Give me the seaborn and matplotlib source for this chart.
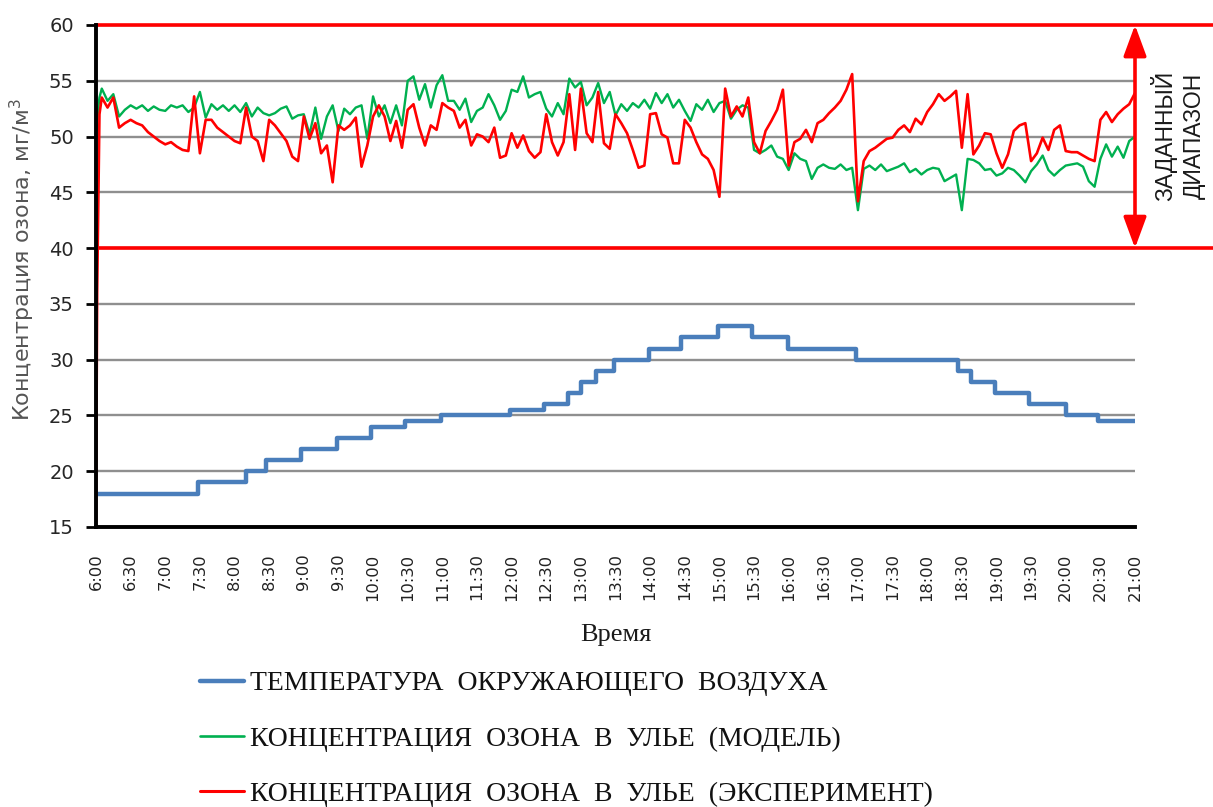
import matplotlib
matplotlib.use("Agg")
import matplotlib.pyplot as plt
from matplotlib.lines import Line2D
import pandas as pd
import seaborn as sns

# ---------------- data ----------------
# time axis: minutes after 6:00
tick_minutes = list(range(0, 901, 30))
tick_labels = ["6:00", "6:30", "7:00", "7:30", "8:00", "8:30", "9:00", "9:30",
               "10:00", "10:30", "11:00", "11:30", "12:00", "12:30", "13:00",
               "13:30", "14:00", "14:30", "15:00", "15:30", "16:00", "16:30",
               "17:00", "17:30", "18:00", "18:30", "19:00", "19:30", "20:00",
               "20:30", "21:00"]

# ambient air temperature, step changes (minute of change, value)
temp_minutes = [0, 88, 130, 147, 178, 209, 238, 268, 299, 359, 388, 409, 420, 433,
                449, 479, 507, 539, 568, 599, 658, 747, 758, 779, 808, 840, 868, 900]
temp_values = [18, 19, 20, 21, 22, 23, 24, 24.5, 25, 25.5, 26, 27, 28, 29,
               30, 31, 32, 33, 32, 31, 30, 29, 28, 27, 26, 25, 24.5, 24.5]

# ozone readings: first minutes of start-up, then every 5 minutes
ozone_minutes = [0, 1, 2, 3] + list(range(5, 901, 5))

ozone_model = [
    50.0, 51.5, 52.6, 53.5,
    54.3, 53.2, 53.8, 51.8, 52.4, 52.8, 52.5, 52.8, 52.3, 52.7, 52.4, 52.3,
    52.8, 52.6, 52.8, 52.2, 52.6, 54.0, 51.7, 52.9, 52.4, 52.8, 52.3, 52.8,
    52.2, 53.0, 51.8, 52.6, 52.1, 51.9, 52.1, 52.5, 52.7, 51.6, 51.9, 52.0,
    50.2, 52.6, 49.8, 51.8, 52.8, 50.5, 52.5, 52.0, 52.6, 52.8, 49.8, 53.6,
    51.8, 52.8, 51.2, 52.8, 51.0, 55.0, 55.4, 53.3, 54.7, 52.6, 54.6, 55.5,
    53.2, 53.2, 52.4, 53.4, 51.3, 52.3, 52.6, 53.8, 52.8, 51.5, 52.3, 54.2,
    54.0, 55.4, 53.5, 53.8, 54.0, 52.5, 51.8, 53.0, 52.0, 55.2, 54.4, 54.9,
    52.8, 53.5, 54.8, 53.0, 54.0, 51.9, 52.9, 52.3, 53.0, 52.6, 53.3, 52.5,
    53.9, 53.0, 53.8, 52.6, 53.3, 52.3, 51.4, 52.9, 52.4, 53.3, 52.2, 53.0,
    53.2, 51.6, 52.4, 52.8, 52.6, 48.8, 48.5, 48.8, 49.2, 48.2, 48.0, 47.0,
    48.5, 48.0, 47.8, 46.2, 47.2, 47.5, 47.2, 47.1, 47.5, 47.0, 47.2, 43.4,
    47.1, 47.4, 47.0, 47.5, 46.9, 47.1, 47.3, 47.6, 46.8, 47.1, 46.6, 47.0,
    47.2, 47.1, 46.0, 46.3, 46.6, 43.4, 48.0, 47.9, 47.6, 47.0, 47.1, 46.5,
    46.7, 47.2, 47.0, 46.5, 45.9, 46.9, 47.5, 48.3, 47.0, 46.5, 47.0, 47.4,
    47.5, 47.6, 47.3, 46.0, 45.5, 48.0, 49.3, 48.2, 49.1, 48.1, 49.6, 50.0,
]

ozone_experiment = [
    15.0, 36.0, 44.0, 52.0,
    53.5, 52.6, 53.5, 50.8, 51.2, 51.5, 51.2, 51.0, 50.4, 50.0, 49.6, 49.3,
    49.5, 49.1, 48.8, 48.7, 53.6, 48.5, 51.5, 51.5, 50.8, 50.4, 50.0, 49.6,
    49.4, 52.6, 50.0, 49.6, 47.8, 51.5, 51.0, 50.3, 49.6, 48.2, 47.8, 51.8,
    49.8, 51.2, 48.5, 49.2, 45.9, 51.0, 50.6, 51.0, 51.7, 47.3, 49.2, 51.8,
    52.8, 51.8, 49.6, 51.4, 49.0, 52.4, 52.9, 50.8, 49.2, 51.0, 50.6, 53.0,
    52.6, 52.3, 50.8, 51.5, 49.2, 50.2, 50.0, 49.5, 50.8, 48.1, 48.3, 50.3,
    49.0, 50.1, 48.7, 48.1, 48.6, 52.0, 49.5, 48.3, 49.5, 53.8, 48.8, 54.3,
    50.3, 49.5, 54.0, 49.4, 48.9, 52.0, 51.2, 50.3, 48.8, 47.2, 47.4, 52.0,
    52.1, 50.2, 49.9, 47.6, 47.6, 51.5, 50.8, 49.5, 48.4, 48.0, 47.0, 44.6,
    54.3, 51.8, 52.7, 51.8, 53.5, 49.5, 48.5, 50.5, 51.4, 52.4, 54.2, 47.4,
    49.5, 49.8, 50.6, 49.5, 51.2, 51.5, 52.1, 52.6, 53.2, 54.2, 55.6, 44.2,
    47.8, 48.7, 49.0, 49.4, 49.8, 49.9, 50.6, 51.0, 50.4, 51.6, 51.1, 52.2,
    52.9, 53.8, 53.2, 53.6, 54.1, 49.0, 53.8, 48.4, 49.2, 50.3, 50.2, 48.5,
    47.2, 48.4, 50.5, 51.0, 51.2, 47.8, 48.5, 49.9, 48.8, 50.6, 51.0, 48.7,
    48.6, 48.6, 48.3, 48.0, 47.8, 51.5, 52.2, 51.3, 52.0, 52.5, 52.9, 53.9,
]

range_low, range_high = 40, 60

series_labels = ["ТЕМПЕРАТУРА  ОКРУЖАЮЩЕГО  ВОЗДУХА",
                 "КОНЦЕНТРАЦИЯ  ОЗОНА  В  УЛЬЕ  (МОДЕЛЬ)",
                 "КОНЦЕНТРАЦИЯ  ОЗОНА  В  УЛЬЕ  (ЭКСПЕРИМЕНТ)"]

temp_df = pd.DataFrame({"t": temp_minutes, "v": temp_values})
ozone_df = pd.DataFrame({"t": ozone_minutes, "model": ozone_model,
                         "experiment": ozone_experiment})

# ---------------- style ----------------
sns.set_theme(style="white")
plt.rcParams["font.family"] = ["DejaVu Sans"]

BLUE, GREEN, RED = "#4a7ebb", "#00b050", "#ff0000"
GRID = "#8f8f8f"

W, H = 1213, 807
fig = plt.figure(figsize=(W / 100, H / 100), dpi=100)
ax_left, ax_right, ax_top, ax_bottom = 96, 1135, 25, 527
ax = fig.add_axes([ax_left / W, 1 - ax_bottom / H,
                   (ax_right - ax_left) / W, (ax_bottom - ax_top) / H])

ax.set_xlim(0, 900)
ax.set_ylim(15, 60)
ax.set_yticks(range(15, 61, 5))
ax.grid(axis="y", color=GRID, lw=1.7, zorder=1)
ax.grid(axis="x", visible=False)

# target range bounds, running out to the right edge of the figure
reach = (W - ax_left) / (ax_right - ax_left)
for lvl in (range_low, range_high):
    ax.axhline(lvl, xmin=0, xmax=reach, color=RED, lw=2.6, clip_on=False, zorder=3)

sns.lineplot(data=temp_df, x="t", y="v", ax=ax, color=BLUE, linewidth=3.2,
             drawstyle="steps-post", estimator=None, sort=False, zorder=4)
sns.lineplot(data=ozone_df, x="t", y="model", ax=ax, color=GREEN, linewidth=1.7,
             estimator=None, sort=False, zorder=5)
sns.lineplot(data=ozone_df, x="t", y="experiment", ax=ax, color=RED, linewidth=1.9,
             estimator=None, sort=False, zorder=6)

# double arrow marking the target range
ax.annotate("", xy=(900, range_high), xytext=(900, range_low),
            arrowprops=dict(arrowstyle="<|-|>,head_length=1.9,head_width=0.7",
                            color=RED, lw=2.6, mutation_scale=10,
                            shrinkA=0, shrinkB=0),
            annotation_clip=False, zorder=7)
ax.text(937, 50.1, "ЗАДАННЫЙ\nДИАПАЗОН", rotation=90, ha="center", va="center",
        fontsize=16.5, family="Liberation Sans", color="#1a1a1a",
        linespacing=1.3, clip_on=False)

# axes, ticks and labels
for side in ("top", "right"):
    ax.spines[side].set_visible(False)
for side in ("left", "bottom"):
    ax.spines[side].set_color("black")
    ax.spines[side].set_linewidth(2.8)
    ax.spines[side].set_zorder(8)

ax.set_xticks(tick_minutes)
ax.set_xticklabels(tick_labels, rotation=90)
ax.tick_params(axis="x", length=0, pad=19, labelsize=11.8, labelcolor="#222222")
ax.tick_params(axis="y", left=True, length=7, width=2, color="black",
               direction="out", pad=9, labelsize=14, labelcolor="#262626")

ax.set_xlabel("Время", fontsize=19, family="Liberation Serif", color="#1a1a1a")
ax.xaxis.label.set_va("center")
ax.xaxis.set_label_coords(0.5, -(635 - ax_bottom) / (ax_bottom - ax_top))

ax.set_ylabel("Концентрация озона, мг/м$^3$", fontsize=16, color="#555555")
ax.yaxis.label.set_va("center")
ax.yaxis.set_label_coords(-(ax_left - 22) / (ax_right - ax_left),
                          (ax_bottom - 260) / (ax_bottom - ax_top))

handles = [Line2D([], [], color=BLUE, lw=3.2),
           Line2D([], [], color=GREEN, lw=1.9),
           Line2D([], [], color=RED, lw=2.2)]
fig.legend(handles, series_labels, loc="upper left",
           bbox_to_anchor=(200 / W, 1 - 671 / H), frameon=False,
           prop={"family": "Liberation Serif", "size": 20},
           handlelength=1.6, handletextpad=0.2, labelspacing=1.07,
           borderpad=0, borderaxespad=0, labelcolor="#111111")

fig.savefig("out.png", dpi=100)
